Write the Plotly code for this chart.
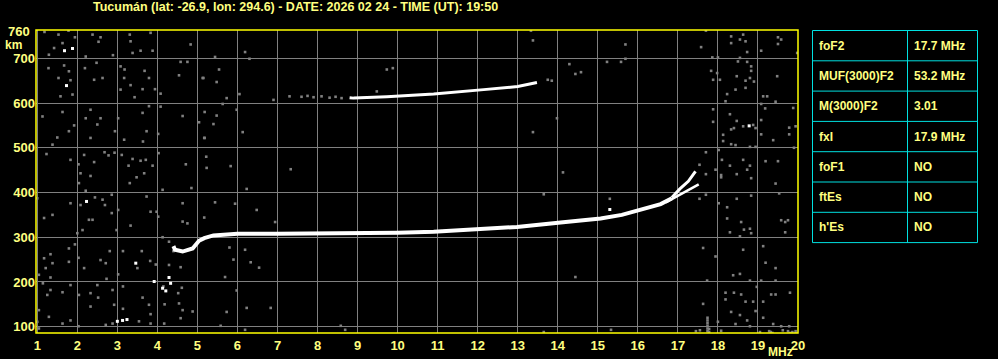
import plotly.graph_objects as go

title_text = "Tucumán (lat: -26.9, lon: 294.6) - DATE: 2026 02 24 - TIME (UT): 19:50"

# Main F2 trace (o-mode)
f2_freq = [4.40, 4.44, 4.63, 4.88, 5.04, 5.17, 5.4, 5.7, 6.0, 7.0, 8.0, 9.23, 10.0, 10.9,
           11.98, 12.98, 14.07, 15.07, 15.6, 16.13, 16.57, 16.85]
f2_height = [280, 272, 268, 275, 292, 298, 304, 307, 308, 308, 308, 309, 310, 312,
             318, 323, 333, 342, 350, 363, 374, 387]

# Upper branch (o-mode continuation) near the critical frequency
ob_freq = [16.85, 17.05, 17.26, 17.44]
ob_height = [389, 408, 425, 447]

# Lower (x-mode) branch
xb_freq = [16.7, 16.85, 17.05, 17.26, 17.42, 17.52]
xb_height = [378, 385, 395, 404, 413, 418]

# Second-hop F2 trace
hop2_freq = [8.8, 8.9, 9.73, 10.9, 12.15, 13.0, 13.48]
hop2_height = [612, 611, 614, 620, 630, 637, 646]

# Isolated white echoes
white_freq = [1.68, 1.88, 1.73, 2.23, 3.0, 3.13, 3.24, 3.46, 3.92, 4.29, 4.33, 4.13, 4.21, 15.3, 18.78]
white_height = [717, 722, 639, 380, 112, 114, 116, 242, 201, 210, 197, 186, 180, 362, 549]

# Grey noise dots
noise_freq = [
    1.18, 1.53, 1.78, 1.94, 2.53, 2.38, 2.58, 3.31, 3.33, 3.38, 3.83, 3.58, 3.88, 4.83, 1.29, 1.42, 1.63, 2.21, 2.89,
    1.28, 1.67, 1.79, 1.83, 1.88, 1.53, 1.58, 2.19, 2.48, 2.42, 2.63, 3.08, 3.18, 3.17, 3.08, 3.33, 3.63, 3.43, 3.68,
    3.79, 3.94, 4.08, 4.54, 4.58, 4.75, 5.13,
    1.13, 1.63, 1.79, 1.5, 1.38, 1.92, 2.21, 2.33, 2.5, 2.58, 2.33, 2.94, 3.02, 3.63, 3.73, 3.64, 3.17, 3.79, 4.08,
    4.02, 4.63, 5.04, 5.17,
    1.23, 1.83, 2.03, 2.17, 2.42, 2.08, 2.33, 2.04, 2.21, 2.68, 2.78, 2.93, 3.11, 3.38, 3.28, 3.58, 3.71, 3.67, 3.48,
    3.31, 3.88, 4.03, 4.13, 4.71, 4.85,
    1.0, 1.83, 1.38, 1.17, 2.08, 2.44, 2.63, 2.69, 2.29, 2.38, 2.13, 2.0, 2.86, 3.02, 2.86, 3.33, 2.98, 3.73, 3.83,
    3.98, 4.02, 4.63, 4.63, 4.75, 4.13, 5.17,
    1.94, 1.33, 1.17, 1.38, 1.21, 1.79, 1.79, 2.03, 2.17, 2.58, 2.81, 2.71, 2.73, 3.02, 3.14, 3.5, 3.61, 3.82, 3.96,
    4.29, 4.4, 4.29, 4.58, 1.04, 1.33,
    1.14, 1.33, 1.25, 1.63, 1.83, 2.04, 2.33, 2.5, 2.52, 2.88, 2.33, 2.92, 3.14, 3.14, 3.63, 3.79, 3.83, 4.15, 4.18,
    4.52, 4.61, 4.54, 4.63, 4.88, 4.58, 1.04, 1.29, 1.63, 1.83, 2.03, 2.71, 2.88, 3.54, 3.83, 4.17, 1.0, 1.04,
    5.44, 6.19, 6.3, 5.15, 5.48, 5.54, 6.05, 5.73, 5.63, 5.18, 5.48, 5.4, 5.98, 5.18, 6.13, 5.22, 5.23, 5.83, 7.33,
    6.23, 5.44, 5.94, 6.48, 6.94, 5.8, 6.19, 5.9, 6.33, 6.54, 5.69, 5.98, 6.23, 6.83, 5.73, 5.58, 6.19, 8.58, 8.69,
    6.9, 7.3, 7.6, 7.75, 7.9, 8.1, 8.3, 8.45, 8.6, 9.73, 9.88, 9.48, 13.33, 13.38, 13.38, 13.98, 14.13, 13.65, 14.29,
    14.44, 14.58, 15.23, 15.58, 15.69, 15.69, 15.3, 14.44, 13.65, 15.33, 17.54, 17.54, 13.75, 13.85,
    17.7, 18.33, 18.63, 18.33, 18.69, 18.55, 18.73, 19.08, 19.5, 19.58, 19.5, 19.98, 17.86, 18.0, 17.58, 18.55,
    18.5, 18.73, 18.83, 18.83, 17.83, 17.88, 17.98, 18.47, 18.69, 18.8, 18.9, 18.44, 18.69, 18.23, 18.05, 18.19,
    19.13, 19.23, 19.48, 19.44, 19.08, 19.18, 19.88, 17.88, 17.88, 18.3, 18.47, 18.4, 18.63, 18.88, 18.94, 18.33,
    18.13, 18.13, 18.33, 18.44, 19.08, 19.08, 19.38, 19.78, 19.78, 19.94, 18.8, 18.94, 19.9, 17.7, 18.02, 18.1,
    18.3, 18.63, 18.8, 18.73, 18.47, 18.83, 19.19, 19.5, 19.44, 18.08, 18.08, 17.94, 17.7, 17.7, 18.02, 18.47,
    18.83, 18.23, 18.23, 18.58, 18.65, 18.8, 18.83, 18.3, 18.55, 19.58, 19.68, 19.75, 19.68, 19.53, 17.63, 17.94,
    18.63, 19.13, 19.19, 19.44, 18.38, 18.55, 17.73, 18.8, 19.08, 19.44, 18.19, 18.4, 18.58, 18.97, 19.33, 19.44,
    19.8, 17.63, 18.19, 18.69, 18.88, 18.94, 19.13, 18.33, 18.55, 18.73, 18.44, 19.13, 19.38, 19.58, 19.78, 18.0,
    18.8, 18.08,
    17.74, 17.74, 17.74, 17.74, 17.74, 17.74, 17.78, 17.78, 17.45, 17.55, 19.05, 19.28, 19.32, 19.36, 19.75, 19.8,
    19.86, 19.94, 19.94, 19.62,
]
noise_height = [
    759, 753, 762, 747, 737, 753, 747, 753, 738, 712, 757, 717, 717, 731, 708, 723, 734, 704, 707,
    678, 684, 671, 651, 619, 656, 615, 678, 690, 652, 656, 682, 675, 656, 630, 640, 631, 613, 672,
    656, 631, 621, 662, 692, 692, 656,
    570, 580, 537, 523, 507, 550, 566, 585, 552, 566, 522, 537, 566, 578, 537, 514, 518, 593, 592,
    531, 571, 557, 522,
    486, 473, 463, 484, 468, 443, 437, 421, 404, 490, 483, 489, 484, 475, 460, 471, 473, 443, 434,
    421, 460, 488, 406, 463, 410,
    387, 376, 350, 343, 372, 389, 384, 372, 339, 339, 316, 309, 395, 361, 354, 326, 316, 391, 357,
    357, 346, 376, 335, 331, 300, 344,
    284, 262, 253, 242, 231, 275, 245, 254, 231, 249, 269, 242, 207, 217, 269, 231, 269, 247, 239,
    290, 269, 238, 233, 216, 210,
    197, 182, 171, 177, 193, 171, 175, 193, 165, 182, 145, 149, 190, 140, 165, 149, 128, 190, 150,
    175, 187, 152, 137, 134, 119, 137, 122, 107, 114, 101, 104, 107, 112, 107, 107, 111, 96,
    703, 714, 699, 656, 647, 675, 620, 611, 598, 580, 572, 553, 585, 522, 535, 480, 455, 459, 452,
    408, 378, 375, 361, 334, 277, 272, 250, 244, 232, 211, 181, 142, 142, 133, 102, 93, 102, 93,
    607, 615, 614, 616, 613, 615, 612, 614, 611, 675, 678, 626, 762, 740, 535, 566, 445, 396, 687,
    665, 669, 692, 692, 731, 699, 386, 211, 88, 93, 462, 386, 652, 650,
    762, 749, 753, 734, 738, 742, 714, 717, 747, 742, 732, 712, 702, 702, 725, 701,
    693, 692, 682, 672, 672, 652, 667, 660, 650, 656, 648, 630, 634, 620, 652, 604,
    615, 615, 660, 603, 598, 588, 589, 586, 558, 575, 560, 544, 548, 551, 544, 541,
    529, 515, 508, 506, 562, 530, 517, 545, 530, 548, 502, 502, 500, 490, 495, 473,
    460, 473, 460, 451, 441, 432, 470, 470, 420, 439, 434, 451, 441, 395, 376, 386,
    393, 367, 342, 334, 317, 319, 309, 311, 302, 338, 334, 338, 311, 398, 276, 257,
    272, 280, 243, 231, 215, 218, 203, 203, 203, 203, 176, 176, 172, 189, 172, 172,
    176, 151, 161, 156, 156, 135, 156, 133, 126, 114, 106, 120, 106, 101, 101, 111,
    101, 91,
    120, 114, 108, 102, 96, 90, 88, 95, 90, 92, 88, 90, 88, 86, 90, 86,
    88, 90, 86, 92,
]

# Parameter table
param_names = ["foF2", "MUF(3000)F2", "M(3000)F2", "fxI", "foF1", "ftEs", "h'Es"]
param_values = ["17.7 MHz", "53.2 MHz", "3.01", "17.9 MHz", "NO", "NO", "NO"]

x_ticks = list(range(1, 21))
y_ticks = [100, 200, 300, 400, 500, 600, 700]

YEL = "#ffff80"
CYAN = "#00e0e0"
GRID = "#808080"
FONT = "Liberation Sans"

W, H = 998, 359
ML, MR, MT, MB = 36, 200, 30, 26
PW, PH = W - ML - MR, H - MT - MB


def px(x):
    return (x - ML) / PW


def py(y):
    return (H - MB - y) / PH


fig = go.Figure()

fig.add_trace(go.Scatter(x=noise_freq, y=noise_height, mode="markers",
                         marker=dict(symbol="square", size=2.6, color=GRID, line=dict(width=0)),
                         hoverinfo="skip", showlegend=False))
fig.add_trace(go.Scatter(x=hop2_freq, y=hop2_height, mode="lines",
                         line=dict(color="white", width=3), showlegend=False))
fig.add_trace(go.Scatter(x=f2_freq, y=f2_height, mode="lines",
                         line=dict(color="white", width=4), showlegend=False))
fig.add_trace(go.Scatter(x=ob_freq, y=ob_height, mode="lines",
                         line=dict(color="white", width=3), showlegend=False))
fig.add_trace(go.Scatter(x=xb_freq, y=xb_height, mode="lines",
                         line=dict(color="white", width=2.5), showlegend=False))
fig.add_trace(go.Scatter(x=white_freq, y=white_height, mode="markers",
                         marker=dict(symbol="square", size=3, color="white", line=dict(width=0)),
                         showlegend=False))

shapes = [dict(type="rect", xref="paper", yref="paper", x0=0, x1=1, y0=0, y1=1,
               line=dict(color="#ffff00", width=1.5), layer="above")]

annotations = [
    dict(text=title_text, x=px(295), y=py(7), xref="paper", yref="paper",
         showarrow=False, xanchor="center", yanchor="middle",
         font=dict(family=FONT, size=12.5, color=YEL, weight="bold")),
    dict(text="760", x=px(32), y=py(31.5), xref="paper", yref="paper",
         showarrow=False, xanchor="right", yanchor="middle",
         font=dict(family=FONT, size=13, color=YEL, weight="bold")),
    dict(text="km", x=px(13.5), y=py(45), xref="paper", yref="paper",
         showarrow=False, xanchor="center", yanchor="middle",
         font=dict(family=FONT, size=12, color=YEL, weight="bold")),
    dict(text="MHz", x=px(780), y=py(352), xref="paper", yref="paper",
         showarrow=False, xanchor="center", yanchor="middle",
         font=dict(family=FONT, size=12, color=YEL, weight="bold")),
]

# table
tx0, tx1, tmid = 812.5, 977.5, 907.5
ty0, row_h = 30.5, 30.3
n = len(param_names)
shapes.append(dict(type="rect", xref="paper", yref="paper", x0=px(tx0), x1=px(tx1),
                   y0=py(ty0), y1=py(ty0 + n * row_h), line=dict(color=CYAN, width=1)))
shapes.append(dict(type="line", xref="paper", yref="paper", x0=px(tmid), x1=px(tmid),
                   y0=py(ty0), y1=py(ty0 + n * row_h), line=dict(color=CYAN, width=1)))
for i in range(1, n):
    yy = py(ty0 + i * row_h)
    shapes.append(dict(type="line", xref="paper", yref="paper", x0=px(tx0), x1=px(tx1),
                       y0=yy, y1=yy, line=dict(color=CYAN, width=1)))
for i, (nm, val) in enumerate(zip(param_names, param_values)):
    yc = py(ty0 + (i + 0.5) * row_h)
    annotations.append(dict(text=nm, x=px(817), y=yc, xref="paper", yref="paper",
                            showarrow=False, xanchor="left", yanchor="middle",
                            font=dict(family=FONT, size=12, color=YEL, weight="bold")))
    annotations.append(dict(text=val, x=px(912), y=yc, xref="paper", yref="paper",
                            showarrow=False, xanchor="left", yanchor="middle",
                            font=dict(family=FONT, size=12, color=YEL, weight="bold")))

fig.update_layout(
    width=W, height=H,
    margin=dict(l=ML, r=MR, t=MT, b=MB, pad=0, autoexpand=False),
    paper_bgcolor="black", plot_bgcolor="black",
    showlegend=False,
    shapes=shapes, annotations=annotations,
    xaxis=dict(range=[0.968, 20.0], tickvals=x_ticks, ticktext=[str(v) for v in x_ticks],
               showgrid=True, gridcolor=GRID, gridwidth=1, zeroline=False, showline=False,
               ticks="", ticklabelstandoff=3, automargin=False,
               tickfont=dict(family=FONT, size=13, color=YEL, weight="bold"),
               fixedrange=True),
    yaxis=dict(range=[85.9, 763.3], tickvals=y_ticks, ticktext=[str(v) for v in y_ticks],
               showgrid=True, gridcolor=GRID, gridwidth=1, zeroline=False, showline=False,
               ticks="", automargin=False,
               tickfont=dict(family=FONT, size=13, color=YEL, weight="bold"),
               fixedrange=True),
)

fig.write_html("out.html", config={"displayModeBar": False})
